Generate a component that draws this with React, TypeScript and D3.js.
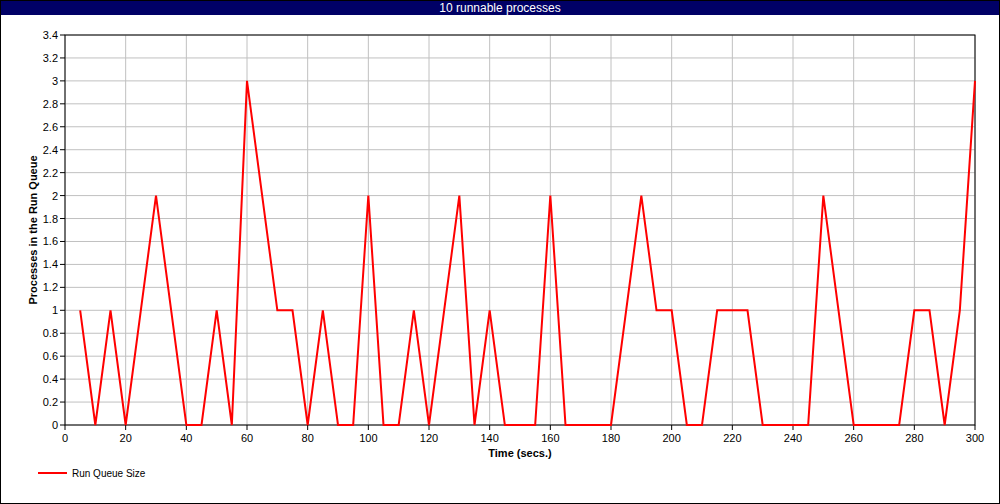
import React from "react";
import * as d3 from "d3";

const times: number[] = d3.range(5, 301, 5);
const runQueue: number[] = [
  1, 0, 1, 0, 1, 2, 1, 0, 0, 1, // 5..50
  0, 3, 2, 1, 1, 0, 1, 0, 0, 2, // 55..100
  0, 0, 1, 0, 1, 2, 0, 1, 0, 0, // 105..150
  0, 2, 0, 0, 0, 0, 1, 2, 1, 1, // 155..200
  0, 0, 1, 1, 1, 0, 0, 0, 0, 2, // 205..250
  1, 0, 0, 0, 0, 1, 1, 0, 1, 3, // 255..300
];
const xTicks: number[] = d3.range(0, 301, 20);
const yTicks: number[] = d3.range(0, 3.41, 0.2).map((v) => Math.round(v * 10) / 10);

const title = "10 runnable processes";
const xTitle = "Time (secs.)";
const yTitle = "Processes in the Run Queue";
const seriesName = "Run Queue Size";

const width = 1000;
const height = 504;
const margin = { top: 35, right: 25, bottom: 79, left: 65 };
const font = "'Liberation Sans', Arial, sans-serif";

const App: React.FC = () => {
  const x = d3.scaleLinear().domain([0, 300]).range([margin.left, width - margin.right]);
  const y = d3.scaleLinear().domain([0, 3.4]).range([height - margin.bottom, margin.top]);

  const line = d3
    .line<number>()
    .x((_, i) => x(times[i]))
    .y((d) => y(d));

  const x0 = margin.left;
  const x1 = width - margin.right;
  const y0 = height - margin.bottom;
  const y1 = margin.top;

  return (
    <svg
      width={width}
      height={height}
      style={{ position: "absolute", left: 0, top: 0, fontFamily: font }}
    >
      <rect x={0.5} y={0.5} width={width - 1} height={height - 1} fill="white" stroke="black" />
      {/* title bar */}
      <rect x={1} y={1} width={width - 2} height={14} fill="#000066" />
      <text x={width / 2} y={12} textAnchor="middle" fill="white" fontSize={12}>
        {title}
      </text>

      {/* grid */}
      {xTicks.map((t) => (
        <line key={`gx-${t}`} x1={x(t)} x2={x(t)} y1={y1} y2={y0} stroke="#c0c0c0" />
      ))}
      {yTicks.map((t) => (
        <line key={`gy-${t}`} x1={x0} x2={x1} y1={y(t)} y2={y(t)} stroke="#c0c0c0" />
      ))}

      {/* frame */}
      <rect x={x0} y={y1} width={x1 - x0} height={y0 - y1} fill="none" stroke="black" />

      {/* y axis */}
      {yTicks.map((t) => (
        <g key={`ty-${t}`}>
          <line x1={x0 - 5} x2={x0} y1={y(t)} y2={y(t)} stroke="black" />
          <text x={x0 - 7} y={y(t) + 4} textAnchor="end" fontSize={11} fill="black">
            {t}
          </text>
        </g>
      ))}
      {/* x axis */}
      {xTicks.map((t) => (
        <g key={`tx-${t}`}>
          <line x1={x(t)} x2={x(t)} y1={y0} y2={y0 + 5} stroke="black" />
          <text x={x(t)} y={y0 + 17} textAnchor="middle" fontSize={11} fill="black">
            {t}
          </text>
        </g>
      ))}

      <text
        x={(x0 + x1) / 2}
        y={y0 + 32}
        textAnchor="middle"
        fontSize={11}
        fontWeight="bold"
      >
        {xTitle}
      </text>
      <text
        transform={`translate(37, ${(y0 + y1) / 2}) rotate(-90)`}
        textAnchor="middle"
        fontSize={11}
        fontWeight="bold"
      >
        {yTitle}
      </text>

      {/* series */}
      <path d={line(runQueue) ?? ""} fill="none" stroke="#ff0000" strokeWidth={2} strokeLinejoin="miter" />

      {/* legend */}
      <line x1={38} x2={67} y1={473} y2={473} stroke="#ff0000" strokeWidth={2} />
      <text x={72} y={477} fontSize={10}>
        {seriesName}
      </text>
    </svg>
  );
};

export default App;
